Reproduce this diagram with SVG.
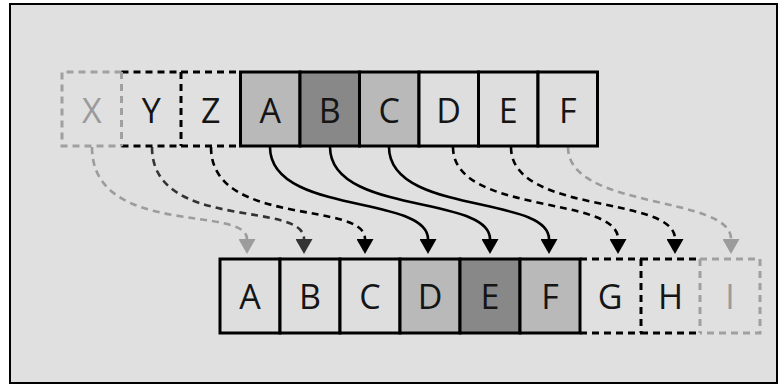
<svg xmlns="http://www.w3.org/2000/svg" width="780" height="385" viewBox="0 0 780 385">
<defs>
<style>
.t{font-family:"Open Sans","Liberation Sans",sans-serif;font-size:34px;text-anchor:middle;fill:#151515}
.tg{fill:#9a9a9a}
.cs{stroke:#000;stroke-width:3}
.lt{fill:#dedede}
.md{fill:#b9b9b9}
.dk{fill:#888}
.db{fill:none;stroke:#000;stroke-width:3;stroke-dasharray:7 5}
.dg{fill:none;stroke:#a0a0a0;stroke-width:3;stroke-dasharray:7 5}
.c{fill:none;stroke-width:2.6}
.cb{stroke:#000}
.cd{stroke:#333}
.cg{stroke:#9c9c9c}
.dash{stroke-dasharray:7 5}
</style>
<marker id="mb" markerUnits="userSpaceOnUse" markerWidth="15" markerHeight="17" refX="0" refY="8.5" orient="auto" viewBox="0 0 15 17"><path d="M0,0 L15,8.5 L0,17Z" fill="#000"/></marker>
<marker id="md" markerUnits="userSpaceOnUse" markerWidth="15" markerHeight="17" refX="0" refY="8.5" orient="auto" viewBox="0 0 15 17"><path d="M0,0 L15,8.5 L0,17Z" fill="#333"/></marker>
<marker id="mg" markerUnits="userSpaceOnUse" markerWidth="15" markerHeight="17" refX="0" refY="8.5" orient="auto" viewBox="0 0 15 17"><path d="M0,0 L15,8.5 L0,17Z" fill="#9c9c9c"/></marker>
</defs>
<rect x="0" y="0" width="780" height="385" fill="#fff"/>
<rect x="10" y="4" width="767" height="379" fill="#e0e0e0" stroke="#000" stroke-width="2"/>

<g id="connectors">
<path class="c cg dash" d="M92,147 C92,238 247,205 247,239" marker-end="url(#mg)"/>
<path class="c cd dash" d="M152,147 C152,232 304,200 304,239" marker-end="url(#md)"/>
<path class="c cb dash" d="M211,147 C211,228 365,200 365,239" marker-end="url(#mb)"/>
<path class="c cb" d="M270,147 C270,215 428,195 428,239" marker-end="url(#mb)"/>
<path class="c cb" d="M330,147 C330,215 490,195 490,239" marker-end="url(#mb)"/>
<path class="c cb" d="M389,147 C389,215 549,195 549,239" marker-end="url(#mb)"/>
<path class="c cb dash" d="M453,147 C453,215 618,195 618,239" marker-end="url(#mb)"/>
<path class="c cb dash" d="M511,147 C511,215 675,195 675,239" marker-end="url(#mb)"/>
<path class="c cg dash" d="M568,147 C568,210 731,195 731,239" marker-end="url(#mg)"/>
</g>

<g id="top-row">
<g id="top-X">
<path class="dg" d="M121.5,72 H62 V146 H121.5"/>
<text class="t tg" x="91.7" y="123">X</text>
</g>
<g id="top-Y">
<path class="db" d="M121.5,72 H181 M121.5,146 H181"/>
<path class="dg" d="M121.5,72 V146"/>
<text class="t" x="151.2" y="123">Y</text>
</g>
<g id="top-Z">
<path class="db" d="M181,72 H240.5 M181,146 H240.5 M181,72 V146"/>
<text class="t" x="210.7" y="123">Z</text>
</g>
<g id="top-A"><rect class="md cs" x="240.5" y="72" width="59.5" height="74"/><text class="t" x="270.2" y="123">A</text></g>
<g id="top-B"><rect class="dk cs" x="300" y="72" width="59.5" height="74"/><text class="t" x="329.7" y="123">B</text></g>
<g id="top-C"><rect class="md cs" x="359.5" y="72" width="59.5" height="74"/><text class="t" x="389.2" y="123">C</text></g>
<g id="top-D"><rect class="lt cs" x="419" y="72" width="59.5" height="74"/><text class="t" x="448.7" y="123">D</text></g>
<g id="top-E"><rect class="lt cs" x="478.5" y="72" width="59.5" height="74"/><text class="t" x="508.2" y="123">E</text></g>
<g id="top-F"><rect class="lt cs" x="538" y="72" width="59.5" height="74"/><text class="t" x="567.7" y="123">F</text></g>
</g>

<g id="bottom-row">
<g id="bot-A"><rect class="lt cs" x="220" y="259" width="60" height="74"/><text class="t" x="250" y="309">A</text></g>
<g id="bot-B"><rect class="lt cs" x="280" y="259" width="60" height="74"/><text class="t" x="310" y="309">B</text></g>
<g id="bot-C"><rect class="lt cs" x="340" y="259" width="60" height="74"/><text class="t" x="370" y="309">C</text></g>
<g id="bot-D"><rect class="md cs" x="400" y="259" width="60" height="74"/><text class="t" x="430" y="309">D</text></g>
<g id="bot-E"><rect class="dk cs" x="460" y="259" width="60" height="74"/><text class="t" x="490" y="309">E</text></g>
<g id="bot-F"><rect class="md cs" x="520" y="259" width="60" height="74"/><text class="t" x="550" y="309">F</text></g>
<g id="bot-G">
<path class="db" d="M580,259 H641 M580,333 H641"/>
<text class="t" x="610" y="309">G</text>
</g>
<g id="bot-H">
<path class="db" d="M641,259 H700 M641,333 H700 M641,259 V333"/>
<text class="t" x="670.5" y="309">H</text>
</g>
<g id="bot-I">
<path class="dg" d="M700,259 H760 V333 H700 M700,259 V333"/>
<text class="t tg" x="730" y="309">I</text>
</g>
</g>
</svg>
